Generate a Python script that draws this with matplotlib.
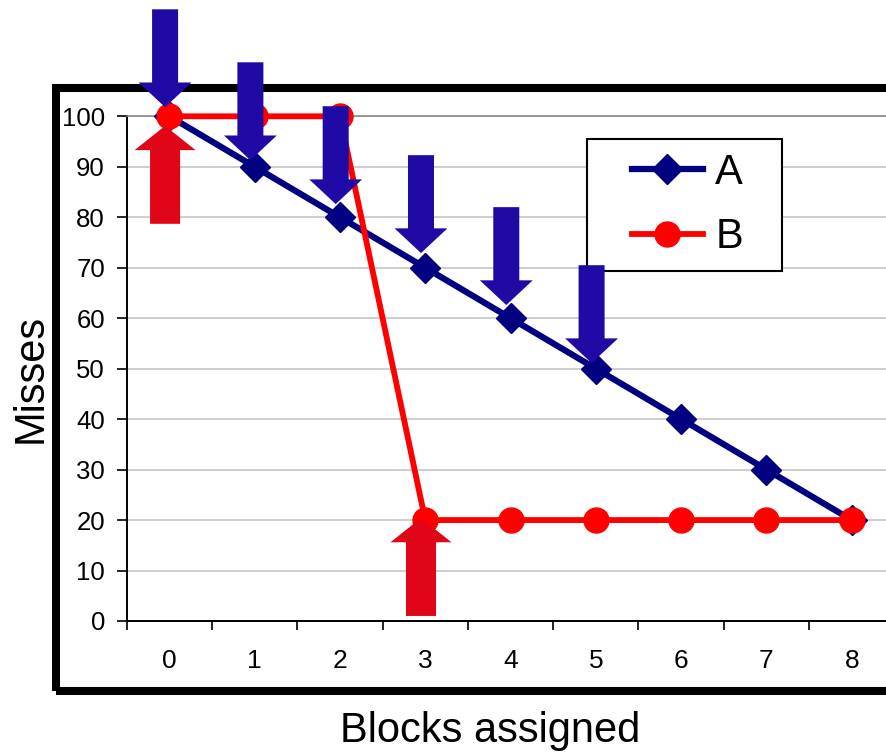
import matplotlib
matplotlib.use('Agg')
import matplotlib.pyplot as plt
from matplotlib.patches import Rectangle

plt.rcParams['font.family'] = ['Liberation Sans', 'DejaVu Sans']

# data
blocks = [0, 1, 2, 3, 4, 5, 6, 7, 8]
misses_a = [100, 90, 80, 70, 60, 50, 40, 30, 20]
misses_b = [100, 100, 100, 20, 20, 20, 20, 20, 20]
y_ticks = [0, 10, 20, 30, 40, 50, 60, 70, 80, 90, 100]

# arrow annotations: which block, and where the tip sits
down_blocks = [0, 1, 2, 3, 4, 5]
down_tips = [101.8, 91.3, 82.6, 72.9, 62.6, 51.1]
up_blocks = [0, 3]
up_tips = [98.1, 20.4]

W, H = 887, 752
fig = plt.figure(figsize=(W / 100, H / 100), dpi=100)
fig.patch.set_facecolor('white')

# axes box in pixels: x from 126.7 to 894.4, y from 116.3 to 621
ax = fig.add_axes([126.7 / W, (H - 621) / H, (894.4 - 126.7) / W, (621 - 116.3) / H])
ax.set_xlim(-0.5, 8.5)
ax.set_ylim(0, 100)

# thick black frame around the chart
fig.patches.append(Rectangle((56 / W, (H - 691) / H), (905 - 56) / W, (691 - 88) / H,
                             transform=fig.transFigure, fill=False, ec='black',
                             lw=5.8, zorder=-1))

# grid and spines
ax.set_yticks(y_ticks)
ax.yaxis.grid(True, color='#c0c0c0', lw=1.1, zorder=0)
ax.set_axisbelow(True)
ax.spines['right'].set_visible(False)
ax.spines['top'].set_color('#808080')
ax.spines['top'].set_linewidth(1.1)
ax.spines['left'].set_linewidth(1.4)
ax.spines['bottom'].set_linewidth(1.4)

ax.tick_params(axis='y', direction='out', length=7.2, width=1.2, pad=8.5, labelsize=18.5)
ax.set_xticks([b - 0.5 for b in blocks] + [8.5])
ax.set_xticklabels([])
ax.set_xticks(blocks, minor=True)
ax.set_xticklabels([str(b) for b in blocks], minor=True)
ax.tick_params(axis='x', which='major', direction='out', length=6.5, width=1.2)
ax.tick_params(axis='x', which='minor', length=0, pad=20, labelsize=19)

# series
ax.plot(blocks, misses_a, color='#000080', lw=4.5, marker='D', ms=15, mew=1,
        label='A', zorder=3, clip_on=False)
ax.plot(blocks, misses_b, color='#ff0000', lw=4.2, marker='o', ms=18, mew=1,
        label='B', zorder=3.5, clip_on=False)

# arrows
L = 19.4
for b, t in zip(down_blocks, down_tips):
    ax.arrow(b - 0.05, t + L, 0, -L, width=0.305, head_width=0.62, head_length=4.9,
             length_includes_head=True, fc='#200aa5', ec='none', zorder=4, clip_on=False)
for b, t in zip(up_blocks, up_tips):
    ax.arrow(b - 0.05, t - L, 0, L, width=0.352, head_width=0.715, head_length=4.8,
             length_includes_head=True, fc='#e10518', ec='none', zorder=4.1, clip_on=False)

# legend with its own box
ax.add_patch(Rectangle((587 / W, (H - 271) / H), (782 - 587) / W, (271 - 139) / H,
                       transform=fig.transFigure, fc='white', ec='black', lw=1.5,
                       zorder=2.5, clip_on=False))
leg = ax.legend(loc='center left', bbox_to_anchor=(632 / W, (H - 205) / H),
                bbox_transform=fig.transFigure, frameon=False, fontsize=30,
                borderpad=0, borderaxespad=0, handlelength=1.7, handletextpad=0.3,
                labelspacing=0.6)
leg.set_zorder(5)

# axis titles
fig.text(490 / W, (H - 742) / H, 'Blocks assigned', fontsize=30, ha='center', va='baseline')
fig.text(42 / W, (H - 378) / H, 'Misses', fontsize=30, rotation=90, rotation_mode='anchor',
         ha='center', va='baseline')

fig.savefig('out.png', dpi=100)
